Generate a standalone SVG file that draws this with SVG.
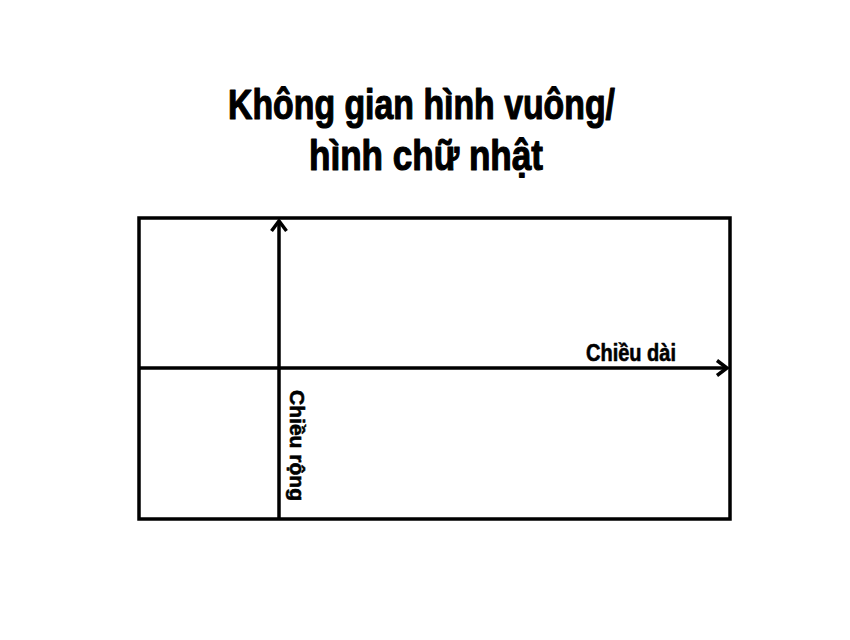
<svg xmlns="http://www.w3.org/2000/svg" width="850" height="640" viewBox="0 0 850 640">
  <style>
    .title { font-family: "Liberation Sans", Arial, sans-serif; font-weight: bold; font-size: 43px; fill: #000; stroke: #000; stroke-width: 1.2; stroke-linejoin: round; }
    .label { font-family: "Liberation Sans", Arial, sans-serif; font-weight: bold; fill: #000; stroke: #000; stroke-width: 0.6; stroke-linejoin: round; }
    .edge { stroke: #000; stroke-width: 3.5; fill: none; }
  </style>
  <defs>
    <marker id="arrow" markerUnits="userSpaceOnUse" markerWidth="20" markerHeight="20" refX="0" refY="0" viewBox="-14 -10 16 20" orient="auto" overflow="visible">
      <path d="M-10,-7.5 L0,0 L-10,7.5" fill="none" stroke="#000" stroke-width="3.5" stroke-linejoin="miter"/>
    </marker>
  </defs>
  <rect width="850" height="640" fill="#fff"/>

  <g id="title">
    <text class="title" x="228" y="119" textLength="387" lengthAdjust="spacingAndGlyphs">Không gian hình vuông/</text>
    <text class="title" x="309" y="170" textLength="234" lengthAdjust="spacingAndGlyphs">hình chữ nhật</text>
  </g>

  <g id="space">
    <rect class="edge" x="139" y="218" width="591" height="301"/>
  </g>

  <g id="connectors">
    <line class="edge" x1="279" y1="519" x2="279" y2="221" marker-end="url(#arrow)"/>
    <line class="edge" x1="139" y1="368" x2="727" y2="368" marker-end="url(#arrow)"/>
  </g>

  <g id="label-length">
    <text class="label" x="586" y="361" font-size="24" textLength="90" lengthAdjust="spacingAndGlyphs">Chiều dài</text>
  </g>

  <g id="label-width">
    <text class="label" transform="translate(290,390) rotate(90)" x="0" y="0" font-size="21" textLength="111" lengthAdjust="spacingAndGlyphs">Chiều rộng</text>
  </g>
</svg>
